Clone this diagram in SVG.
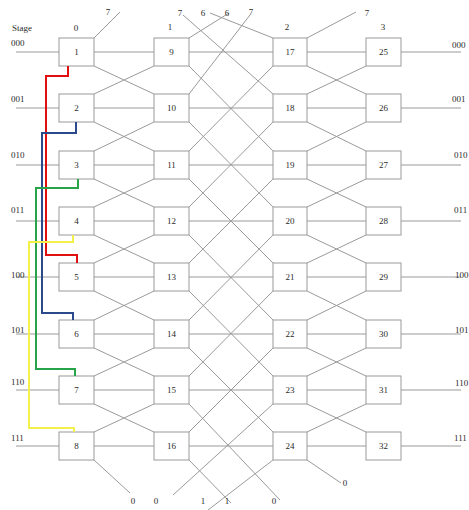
<svg xmlns="http://www.w3.org/2000/svg" width="469" height="510" viewBox="0 0 469 510">
<style>
text{font-family:"Liberation Serif","Times New Roman",serif;font-size:9px;fill:#2a2a2a}
.n text{text-anchor:middle}
.n rect{fill:#fff;stroke:#9a9a9a;stroke-width:1}
.c path{fill:none;stroke:#9a9a9a;stroke-width:1}
.p{fill:none;stroke-width:2;stroke-linejoin:miter}
.m{text-anchor:middle}
</style>
<rect width="469" height="510" fill="#fff"/>
<g class="c" id="connectors">
<path d="M16,52H59M94,52H154M189,52H273M307,52H366M401,52H461"/>
<path d="M16,108H59M94,108H154M189,108H273M307,108H366M401,108H461"/>
<path d="M16,165H59M94,165H154M189,165H273M307,165H366M401,165H461"/>
<path d="M16,221H59M94,221H154M189,221H273M307,221H366M401,221H461"/>
<path d="M16,277H59M94,277H154M189,277H273M307,277H366M401,277H461"/>
<path d="M16,334H59M94,334H154M189,334H273M307,334H366M401,334H461"/>
<path d="M16,390H59M94,390H154M189,390H273M307,390H366M401,390H461"/>
<path d="M16,446H59M94,446H154M189,446H273M307,446H366M401,446H461"/>
<path d="M94,66L154,94M94,122L154,151M94,179L154,207M94,235L154,263M94,291L154,320M94,348L154,376M94,404L154,432"/>
<path d="M94,94L154,66M94,151L154,122M94,207L154,179M94,263L154,235M94,320L154,291M94,376L154,348M94,432L154,404"/>
<path d="M94,38L120,12M94,460L130,493"/>
<path d="M189,66L273,151M189,122L273,207M189,179L273,263M189,235L273,320M189,291L273,376M189,348L273,432"/>
<path d="M189,151L273,66M189,207L273,122M189,263L273,179M189,320L273,235M189,376L273,291M189,432L273,348"/>
<path d="M189,38L229,13M189,94L250,15M273,38L210,13M273,94L183,15"/>
<path d="M189,404L280,500M189,460L231,503M273,404L173,495M273,460L208,510"/>
<path d="M307,66L366,94M307,122L366,151M307,179L366,207M307,235L366,263M307,291L366,320M307,348L366,376M307,404L366,432"/>
<path d="M307,94L366,66M307,151L366,122M307,207L366,179M307,263L366,235M307,320L366,291M307,376L366,348M307,432L366,404"/>
<path d="M307,38L356,12M307,460L341,483"/>
</g>
<g class="n" id="n1"><rect x="59" y="38" width="35" height="28"/><text x="76.5" y="55">1</text></g>
<g class="n" id="n2"><rect x="59" y="94" width="35" height="28"/><text x="76.5" y="111">2</text></g>
<g class="n" id="n3"><rect x="59" y="151" width="35" height="28"/><text x="76.5" y="168">3</text></g>
<g class="n" id="n4"><rect x="59" y="207" width="35" height="28"/><text x="76.5" y="224">4</text></g>
<g class="n" id="n5"><rect x="59" y="263" width="35" height="28"/><text x="76.5" y="280">5</text></g>
<g class="n" id="n6"><rect x="59" y="320" width="35" height="28"/><text x="76.5" y="337">6</text></g>
<g class="n" id="n7"><rect x="59" y="376" width="35" height="28"/><text x="76.5" y="393">7</text></g>
<g class="n" id="n8"><rect x="59" y="432" width="35" height="28"/><text x="76.5" y="449">8</text></g>
<g class="n" id="n9"><rect x="154" y="38" width="35" height="28"/><text x="171.5" y="55">9</text></g>
<g class="n" id="n10"><rect x="154" y="94" width="35" height="28"/><text x="171.5" y="111">10</text></g>
<g class="n" id="n11"><rect x="154" y="151" width="35" height="28"/><text x="171.5" y="168">11</text></g>
<g class="n" id="n12"><rect x="154" y="207" width="35" height="28"/><text x="171.5" y="224">12</text></g>
<g class="n" id="n13"><rect x="154" y="263" width="35" height="28"/><text x="171.5" y="280">13</text></g>
<g class="n" id="n14"><rect x="154" y="320" width="35" height="28"/><text x="171.5" y="337">14</text></g>
<g class="n" id="n15"><rect x="154" y="376" width="35" height="28"/><text x="171.5" y="393">15</text></g>
<g class="n" id="n16"><rect x="154" y="432" width="35" height="28"/><text x="171.5" y="449">16</text></g>
<g class="n" id="n17"><rect x="273" y="38" width="34" height="28"/><text x="290" y="55">17</text></g>
<g class="n" id="n18"><rect x="273" y="94" width="34" height="28"/><text x="290" y="111">18</text></g>
<g class="n" id="n19"><rect x="273" y="151" width="34" height="28"/><text x="290" y="168">19</text></g>
<g class="n" id="n20"><rect x="273" y="207" width="34" height="28"/><text x="290" y="224">20</text></g>
<g class="n" id="n21"><rect x="273" y="263" width="34" height="28"/><text x="290" y="280">21</text></g>
<g class="n" id="n22"><rect x="273" y="320" width="34" height="28"/><text x="290" y="337">22</text></g>
<g class="n" id="n23"><rect x="273" y="376" width="34" height="28"/><text x="290" y="393">23</text></g>
<g class="n" id="n24"><rect x="273" y="432" width="34" height="28"/><text x="290" y="449">24</text></g>
<g class="n" id="n25"><rect x="366" y="38" width="35" height="28"/><text x="383.5" y="55">25</text></g>
<g class="n" id="n26"><rect x="366" y="94" width="35" height="28"/><text x="383.5" y="111">26</text></g>
<g class="n" id="n27"><rect x="366" y="151" width="35" height="28"/><text x="383.5" y="168">27</text></g>
<g class="n" id="n28"><rect x="366" y="207" width="35" height="28"/><text x="383.5" y="224">28</text></g>
<g class="n" id="n29"><rect x="366" y="263" width="35" height="28"/><text x="383.5" y="280">29</text></g>
<g class="n" id="n30"><rect x="366" y="320" width="35" height="28"/><text x="383.5" y="337">30</text></g>
<g class="n" id="n31"><rect x="366" y="376" width="35" height="28"/><text x="383.5" y="393">31</text></g>
<g class="n" id="n32"><rect x="366" y="432" width="35" height="28"/><text x="383.5" y="449">32</text></g>
<g id="paths">
<path class="p" stroke="#e01010" d="M68,66V76H46V255H77V263"/>
<path class="p" stroke="#2a4a8c" d="M76,122V133H42V313H73V320"/>
<path class="p" stroke="#27a34a" d="M78,179V188H36V369H75V376"/>
<path class="p" stroke="#f4f04a" d="M73,235V242H29V428H74V432"/>
</g>
<g id="labels">
<text x="12" y="31">Stage</text>
<text class="m" x="76" y="31">0</text>
<text class="m" x="170" y="30">1</text>
<text class="m" x="287" y="30">2</text>
<text class="m" x="383" y="30">3</text>
<text class="m" x="108" y="15">7</text>
<text class="m" x="180" y="16">7</text>
<text class="m" x="203" y="16">6</text>
<text class="m" x="227" y="16">6</text>
<text class="m" x="251" y="15">7</text>
<text class="m" x="367" y="16">7</text>
<text class="m" x="133" y="504">0</text>
<text class="m" x="156" y="504">0</text>
<text class="m" x="203" y="504">1</text>
<text class="m" x="227" y="504">1</text>
<text class="m" x="274" y="504">0</text>
<text class="m" x="345" y="486">0</text>
<text x="11" y="46">000</text>
<text x="11" y="102">001</text>
<text x="11" y="158">010</text>
<text x="11" y="213">011</text>
<text x="11" y="278">100</text>
<text x="11" y="333">101</text>
<text x="11" y="385">110</text>
<text x="11" y="441">111</text>
<text x="452" y="48">000</text>
<text x="452" y="102">001</text>
<text x="454" y="158">010</text>
<text x="454" y="213">011</text>
<text x="455" y="278">100</text>
<text x="455" y="333">101</text>
<text x="455" y="386">110</text>
<text x="454" y="441">111</text>
</g>
</svg>
